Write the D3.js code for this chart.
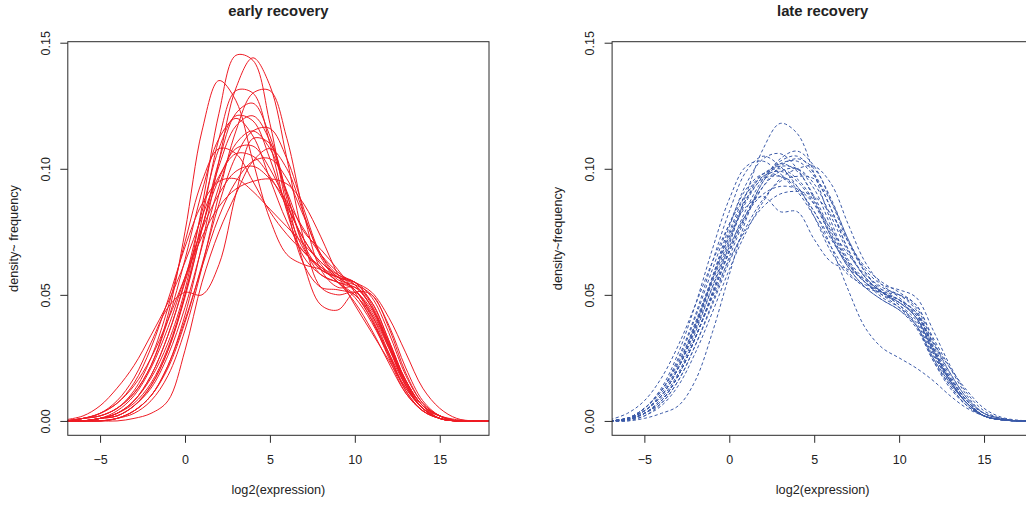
<!DOCTYPE html>
<html>
<head>
<meta charset="utf-8">
<script src="https://cdn.jsdelivr.net/npm/d3@7"></script>
<style>
  html, body { margin: 0; padding: 0; background: #fff; }
  svg { display: block; font-family: "Liberation Sans", Arial, Helvetica, sans-serif; }
</style>
</head>
<body>
<svg id="chart" width="1026" height="505"></svg>
<script>
// ---- data (x grid shared by all density curves) ----
const xGrid = [-7,-6,-5,-4,-3,-2,-1,0,1,2,3,4,5,6,7,8,9,10,11,12,13,14,15,16,17,18];
const xTicks = [-5, 0, 5, 10, 15];
const yTicks = [0, 0.05, 0.10, 0.15];
const yTickLabels = ["0.00", "0.05", "0.10", "0.15"];
const panelTitles = ["early recovery", "late recovery"];
const yLabels = ["density~ frequency", "density~frequency"];
const xLabel = "log2(expression)";

// early recovery (red, solid)
const early01 = [0,0,0.001,0.003,0.008,0.017,0.031,0.052,0.085,0.122,0.145,0.143,0.118,0.085,0.062,0.053,0.052,0.050,0.040,0.025,0.011,0.004,0.001,0,0,0];
const early02 = [0,0,0,0.001,0.004,0.010,0.022,0.042,0.070,0.103,0.132,0.144,0.133,0.104,0.072,0.053,0.050,0.051,0.044,0.029,0.014,0.005,0.001,0,0,0];
const early03 = [0,0.001,0.002,0.005,0.011,0.022,0.042,0.075,0.115,0.135,0.127,0.103,0.080,0.066,0.062,0.060,0.055,0.047,0.036,0.023,0.011,0.004,0.001,0,0,0];
const early04 = [0,0,0,0.001,0.003,0.008,0.018,0.036,0.061,0.090,0.115,0.130,0.131,0.112,0.082,0.060,0.053,0.053,0.047,0.032,0.016,0.006,0.002,0,0,0];
const early05 = [0,0,0.001,0.002,0.006,0.014,0.028,0.050,0.080,0.112,0.131,0.130,0.110,0.083,0.065,0.058,0.055,0.052,0.042,0.027,0.012,0.004,0.001,0,0,0];
const early06 = [0,0,0.001,0.003,0.008,0.018,0.034,0.056,0.083,0.108,0.121,0.119,0.104,0.084,0.068,0.060,0.057,0.054,0.045,0.030,0.015,0.005,0.001,0,0,0];
const early07 = [0,0.001,0.002,0.005,0.011,0.022,0.040,0.064,0.091,0.112,0.120,0.113,0.096,0.079,0.067,0.061,0.057,0.052,0.041,0.026,0.012,0.004,0.001,0,0,0];
const early08 = [0,0,0,0.001,0.004,0.010,0.021,0.039,0.062,0.086,0.105,0.115,0.116,0.104,0.084,0.066,0.057,0.055,0.049,0.035,0.018,0.007,0.002,0,0,0];
const early09 = [0,0.001,0.003,0.008,0.017,0.031,0.045,0.051,0.050,0.062,0.090,0.112,0.110,0.090,0.070,0.060,0.057,0.055,0.046,0.031,0.015,0.005,0.001,0,0,0];
const early10 = [0,0.001,0.003,0.007,0.014,0.025,0.040,0.057,0.073,0.085,0.092,0.095,0.096,0.094,0.086,0.073,0.058,0.046,0.035,0.024,0.013,0.005,0.002,0.0005,0,0];
const early11 = [0,0,0,0,0.001,0.003,0.008,0.028,0.055,0.075,0.090,0.103,0.108,0.100,0.082,0.065,0.056,0.054,0.050,0.038,0.021,0.008,0.002,0,0,0];
const early12 = [0.0005,0.002,0.006,0.013,0.022,0.034,0.047,0.063,0.081,0.097,0.106,0.105,0.097,0.085,0.072,0.062,0.055,0.049,0.039,0.026,0.013,0.005,0.001,0,0,0];
const early13 = [0,0.001,0.002,0.005,0.012,0.025,0.045,0.071,0.095,0.108,0.106,0.095,0.083,0.074,0.067,0.061,0.055,0.050,0.042,0.029,0.015,0.006,0.002,0,0,0];
const early14 = [0,0,0.001,0.003,0.008,0.018,0.034,0.055,0.077,0.096,0.108,0.109,0.100,0.086,0.072,0.063,0.058,0.055,0.047,0.032,0.016,0.006,0.001,0,0,0];
const early15 = [0,0,0.001,0.004,0.010,0.021,0.037,0.057,0.076,0.090,0.099,0.101,0.096,0.087,0.076,0.066,0.059,0.054,0.045,0.031,0.016,0.006,0.002,0,0,0];
const early16 = [0,0.001,0.003,0.007,0.015,0.029,0.048,0.069,0.086,0.095,0.096,0.091,0.084,0.077,0.070,0.063,0.057,0.052,0.043,0.030,0.016,0.006,0.002,0,0,0];
const early17 = [0,0,0.001,0.002,0.006,0.014,0.028,0.049,0.076,0.101,0.117,0.121,0.111,0.088,0.062,0.046,0.044,0.051,0.050,0.037,0.019,0.007,0.002,0,0,0];
const early18 = [0,0,0.001,0.002,0.006,0.013,0.026,0.045,0.069,0.093,0.110,0.115,0.108,0.091,0.075,0.068,0.060,0.051,0.040,0.027,0.014,0.005,0.001,0,0,0];
const early19 = [0,0,0,0.001,0.004,0.010,0.022,0.040,0.061,0.081,0.095,0.103,0.104,0.096,0.081,0.066,0.058,0.055,0.051,0.041,0.027,0.013,0.005,0.001,0,0];
const early20 = [0,0,0.001,0.003,0.007,0.015,0.029,0.050,0.076,0.103,0.122,0.126,0.113,0.090,0.069,0.058,0.055,0.053,0.045,0.030,0.014,0.005,0.001,0,0,0];

// late recovery (blue, dashed)
const late01 = [0,0.001,0.004,0.010,0.021,0.037,0.055,0.072,0.088,0.098,0.101,0.100,0.092,0.077,0.063,0.055,0.050,0.047,0.041,0.028,0.016,0.007,0.002,0.0005,0,0];
const late02 = [0,0.001,0.003,0.008,0.018,0.033,0.051,0.070,0.090,0.108,0.118,0.114,0.098,0.079,0.064,0.056,0.051,0.046,0.038,0.024,0.013,0.006,0.002,0.0005,0,0];
const late03 = [0,0.0005,0.003,0.008,0.018,0.033,0.050,0.067,0.082,0.095,0.104,0.107,0.101,0.087,0.071,0.059,0.052,0.048,0.041,0.027,0.015,0.007,0.002,0.0005,0,0];
const late04 = [0,0.001,0.005,0.012,0.025,0.042,0.063,0.083,0.099,0.105,0.101,0.093,0.083,0.072,0.062,0.055,0.050,0.045,0.038,0.025,0.014,0.006,0.002,0.0005,0,0];
const late05 = [0,0.001,0.005,0.012,0.023,0.038,0.056,0.073,0.085,0.089,0.083,0.083,0.072,0.063,0.060,0.056,0.051,0.047,0.041,0.028,0.016,0.007,0.002,0.0005,0,0];
const late06 = [0,0.001,0.005,0.013,0.027,0.046,0.068,0.088,0.101,0.103,0.098,0.092,0.083,0.069,0.052,0.037,0.029,0.025,0.021,0.016,0.010,0.005,0.002,0.0005,0,0];
const late07 = [0,0.0005,0.003,0.008,0.018,0.033,0.050,0.068,0.084,0.096,0.103,0.105,0.098,0.084,0.068,0.057,0.051,0.048,0.043,0.029,0.017,0.008,0.002,0.0005,0,0];
const late08 = [0,0.001,0.004,0.011,0.022,0.039,0.057,0.075,0.090,0.098,0.100,0.096,0.087,0.074,0.062,0.055,0.051,0.048,0.043,0.029,0.016,0.007,0.002,0.0005,0,0];
const late09 = [0,0.0005,0.002,0.007,0.016,0.030,0.046,0.063,0.077,0.088,0.095,0.097,0.096,0.087,0.072,0.060,0.054,0.052,0.049,0.036,0.022,0.011,0.004,0.001,0,0];
const late10 = [0,0.001,0.004,0.010,0.021,0.036,0.053,0.069,0.082,0.090,0.093,0.092,0.086,0.076,0.066,0.058,0.053,0.050,0.044,0.030,0.018,0.008,0.003,0.001,0,0];
const late11 = [0,0.001,0.003,0.009,0.019,0.035,0.053,0.071,0.087,0.097,0.102,0.099,0.089,0.075,0.063,0.055,0.049,0.045,0.039,0.026,0.016,0.007,0.002,0.0005,0,0];
const late12 = [0,0.0005,0.003,0.007,0.016,0.030,0.047,0.065,0.081,0.093,0.101,0.104,0.100,0.088,0.072,0.059,0.051,0.046,0.040,0.027,0.016,0.007,0.002,0.0005,0,0];
const late13 = [0,0.001,0.005,0.012,0.024,0.041,0.060,0.078,0.092,0.098,0.097,0.091,0.081,0.069,0.059,0.053,0.051,0.050,0.046,0.032,0.019,0.009,0.003,0.001,0,0];
const late14 = [0,0,0.002,0.006,0.014,0.027,0.043,0.060,0.075,0.087,0.096,0.100,0.101,0.094,0.078,0.063,0.054,0.049,0.042,0.028,0.017,0.008,0.002,0.0005,0,0];
const late15 = [0,0.001,0.004,0.010,0.021,0.037,0.056,0.074,0.088,0.096,0.097,0.093,0.081,0.067,0.058,0.054,0.052,0.050,0.045,0.031,0.019,0.009,0.003,0.001,0,0];
const late16 = [0,0.0005,0.003,0.008,0.018,0.033,0.050,0.067,0.082,0.093,0.099,0.100,0.094,0.081,0.067,0.057,0.051,0.047,0.042,0.031,0.021,0.012,0.005,0.0015,0.0003,0];
const late17 = [0,0.001,0.004,0.010,0.021,0.038,0.057,0.077,0.094,0.104,0.106,0.100,0.088,0.073,0.061,0.053,0.048,0.044,0.038,0.025,0.015,0.007,0.002,0.0005,0,0];
const late18 = [0,0.0005,0.003,0.008,0.018,0.033,0.049,0.064,0.076,0.085,0.090,0.091,0.089,0.082,0.071,0.061,0.055,0.051,0.046,0.033,0.021,0.010,0.003,0.001,0,0];
const late19 = [0,0,0.001,0.003,0.006,0.016,0.035,0.058,0.080,0.095,0.102,0.103,0.097,0.084,0.068,0.057,0.051,0.048,0.043,0.029,0.017,0.008,0.002,0.0005,0,0];
const late20 = [0.0005,0.003,0.008,0.017,0.030,0.046,0.063,0.078,0.090,0.097,0.099,0.095,0.086,0.073,0.061,0.053,0.048,0.044,0.037,0.024,0.014,0.006,0.002,0.0005,0,0];

const earlyCurves = [early01,early02,early03,early04,early05,early06,early07,early08,early09,early10,
                     early11,early12,early13,early14,early15,early16,early17,early18,early19,early20];
const lateCurves = [late01,late02,late03,late04,late05,late06,late07,late08,late09,late10,
                    late11,late12,late13,late14,late15,late16,late17,late18,late19,late20];

// ---- layout ----
const svg = d3.select("#chart");
const box = { left: 67.8, right: 489.0, top: 41.7, bottom: 435.3 };
const panelOffsets = [0, 544.3];
const xDomain = [-6.9, 17.9];
const yDomain = [-0.0057, 0.1504];
const textColor = "#222";
const lineColor = "#2b2b2b";

function drawPanel(idx, curves, color, dash) {
  const off = panelOffsets[idx];
  const g = svg.append("g").attr("transform", `translate(${off},0)`);
  const x = d3.scaleLinear().domain(xDomain).range([box.left, box.right]);
  const y = d3.scaleLinear().domain(yDomain).range([box.bottom, box.top]);

  const clipId = "clip" + idx;
  g.append("clipPath").attr("id", clipId).append("rect")
    .attr("x", box.left).attr("y", box.top)
    .attr("width", box.right - box.left).attr("height", box.bottom - box.top);

  const line = d3.line()
    .x((d, i) => x(xGrid[i]))
    .y(d => y(d))
    .curve(d3.curveCatmullRom.alpha(0.5));

  g.append("g").attr("clip-path", `url(#${clipId})`)
    .selectAll("path").data(curves).join("path")
    .attr("d", line)
    .attr("fill", "none")
    .attr("stroke", color)
    .attr("stroke-width", 1)
    .attr("stroke-dasharray", dash);

  // box
  g.append("rect")
    .attr("x", box.left).attr("y", box.top)
    .attr("width", box.right - box.left).attr("height", box.bottom - box.top)
    .attr("fill", "none").attr("stroke", lineColor).attr("stroke-width", 1);

  // x axis
  const xa = g.append("g").attr("transform", `translate(0,${box.bottom})`)
    .call(d3.axisBottom(x).tickValues(xTicks).tickSize(7.5)
      .tickFormat(d => d < 0 ? "\u2212" + Math.abs(d) : String(d)));
  xa.select(".domain").remove();
  xa.selectAll(".tick line").attr("stroke", lineColor);
  xa.selectAll(".tick text")
    .attr("y", 29).attr("dy", null)
    .attr("fill", textColor)
    .style("font-size", "12.5px")
    .style("font-family", "\"Liberation Sans\", Arial, sans-serif");

  // y axis
  const ya = g.append("g").attr("transform", `translate(${box.left},0)`)
    .call(d3.axisLeft(y).tickValues(yTicks).tickSize(7.5)
      .tickFormat((d, i) => yTickLabels[i]));
  ya.select(".domain").remove();
  ya.selectAll(".tick line").attr("stroke", lineColor);
  ya.selectAll(".tick text")
    .attr("x", null).attr("dy", null)
    .attr("text-anchor", "middle")
    .attr("transform", "translate(-17.8,0) rotate(-90)")
    .attr("fill", textColor)
    .style("font-size", "12.5px")
    .style("font-family", "\"Liberation Sans\", Arial, sans-serif");

  // title
  g.append("text")
    .attr("x", (box.left + box.right) / 2).attr("y", 16)
    .attr("text-anchor", "middle")
    .attr("font-weight", "bold")
    .attr("font-size", "14.8px")
    .attr("fill", textColor)
    .text(panelTitles[idx]);

  // x label
  g.append("text")
    .attr("x", (box.left + box.right) / 2).attr("y", 493.5)
    .attr("text-anchor", "middle")
    .attr("font-size", "12.7px")
    .attr("fill", textColor)
    .text(xLabel);

  // y label
  g.append("text")
    .attr("transform", `translate(17.7,${(box.top + box.bottom) / 2}) rotate(-90)`)
    .attr("text-anchor", "middle")
    .attr("font-size", "12.7px")
    .attr("fill", textColor)
    .text(yLabels[idx]);
}

drawPanel(0, earlyCurves, "#ee1c25", null);
drawPanel(1, lateCurves, "#3b5aa8", "3.2,2.4");
</script>
</body>
</html>
